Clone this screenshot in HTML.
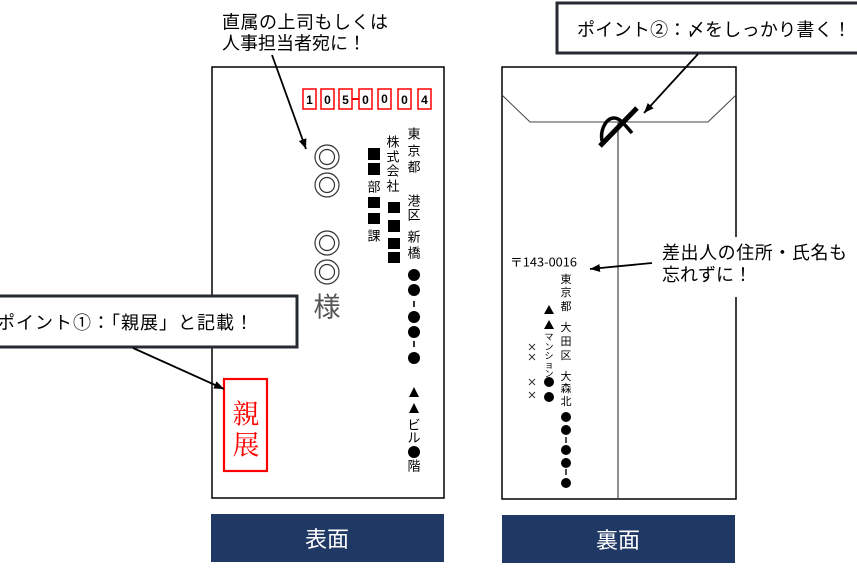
<!DOCTYPE html>
<html><head><meta charset="utf-8"><style>
html,body{margin:0;padding:0;background:#fff;}
svg{display:block;}
text{font-family:"Liberation Sans","Noto Sans CJK JP",sans-serif;}
.j{font-family:"Noto Sans CJK JP","Liberation Sans",sans-serif;}
</style></head><body>
<svg width="857" height="575" viewBox="0 0 857 575" xmlns="http://www.w3.org/2000/svg">
<defs>
<marker id="ah" markerWidth="10" markerHeight="8" refX="10" refY="4" orient="auto" markerUnits="userSpaceOnUse"><path d="M0,0 L10,4 L0,8 z" fill="#000"/></marker>
</defs>
<rect width="857" height="575" fill="#fff"/>

<!-- FRONT envelope -->
<rect x="212" y="67" width="232" height="431" fill="none" stroke="#000" stroke-width="1.5"/>
<!-- postal code boxes -->
<g fill="none" stroke="#f00" stroke-width="1.5">
<rect x="303" y="89" width="13" height="20"/><rect x="321" y="89" width="13" height="20"/><rect x="339" y="89" width="13" height="20"/>
<rect x="359" y="89" width="13" height="20"/><rect x="378" y="89" width="13" height="20"/><rect x="398" y="89" width="13" height="20"/><rect x="418" y="89" width="13" height="20"/>
<line x1="352" y1="99" x2="359" y2="99" stroke-width="2"/>
</g>
<g font-size="12" font-weight="bold" text-anchor="middle" dominant-baseline="central" fill="#000">
<text x="309.5" y="100">1</text><text x="327.5" y="100">0</text><text x="345.5" y="100">5</text>
<text x="365.5" y="100">0</text><text x="384.5" y="99">0</text><text x="404.5" y="100">0</text><text x="424.5" y="100">4</text>
</g>
<!-- double circles -->
<g fill="none" stroke="#333" stroke-width="1.2">
<circle cx="327" cy="157" r="12"/><circle cx="327" cy="157" r="7.5"/>
<circle cx="327" cy="185" r="12"/><circle cx="327" cy="185" r="7.5"/>
<circle cx="327" cy="243" r="12"/><circle cx="327" cy="243" r="7.5"/>
<circle cx="327" cy="272" r="12"/><circle cx="327" cy="272" r="7.5"/>
</g>
<text class="j" x="327" y="305" font-size="27" fill="#555" text-anchor="middle" dominant-baseline="central">様</text>

<!-- front vertical address -->
<g class="j" font-size="13" text-anchor="middle" dominant-baseline="central" fill="#000">
<text x="414" y="134">東</text><text x="414" y="151">京</text><text x="414" y="167">都</text>
<text x="414" y="201">港</text><text x="414" y="215">区</text>
<text x="414" y="237">新</text><text x="414" y="253">橋</text>
<text x="414" y="425">ビ</text><text x="414" y="438">ル</text><text x="414" y="466">階</text>
<text x="393" y="142">株</text><text x="393" y="157">式</text><text x="393" y="171">会</text><text x="393" y="186">社</text>
<text x="374" y="187">部</text><text x="374" y="236">課</text>
</g>
<g fill="#000">
<circle cx="414" cy="275" r="6"/><circle cx="414" cy="290" r="6"/>
<circle cx="414" cy="317" r="6"/><circle cx="414" cy="332" r="6"/>
<circle cx="414" cy="358" r="6"/><circle cx="414" cy="452" r="6"/>
<rect x="413.2" y="301" width="1.6" height="6"/><rect x="413.2" y="341" width="1.6" height="6"/>
<path d="M409,397 L414,387 L419,397 z"/><path d="M409,413 L414,403 L419,413 z"/>
<rect x="388" y="202" width="12" height="11"/><rect x="388" y="220" width="12" height="12"/>
<rect x="388" y="238" width="12" height="11"/><rect x="388" y="252" width="12" height="11"/>
<rect x="368" y="148" width="12" height="12"/><rect x="368" y="163" width="12" height="12"/>
<rect x="368" y="197" width="12" height="11"/><rect x="368" y="213" width="12" height="11"/>
</g>

<!-- 親展 -->
<rect x="224" y="379" width="43" height="92" fill="none" stroke="#f00" stroke-width="2.2"/>
<g font-size="27" fill="#f00" text-anchor="middle" dominant-baseline="central">
<text x="246" y="412" style="font-family:'Noto Serif CJK SC',serif">親</text>
<text x="246" y="443" style="font-family:'Noto Serif CJK SC',serif">展</text>
</g>

<!-- top-left callout text -->
<g class="j" font-size="18" fill="#000" dominant-baseline="central">
<text x="222" y="22.5" textLength="166" lengthAdjust="spacing">直属の上司もしくは</text>
<text x="222" y="43.5">人事担当者宛に！</text>
</g>
<line x1="272" y1="55" x2="306" y2="149" stroke="#000" stroke-width="1.8" marker-end="url(#ah)"/>

<!-- callout 1 -->
<rect x="-5" y="296" width="302" height="51" fill="#fff" stroke="#262b33" stroke-width="3"/>
<text class="j" x="-3" y="322" font-size="18" fill="#000" dominant-baseline="central" textLength="256" lengthAdjust="spacing">ポイント①：「親展」と記載！</text>
<line x1="133" y1="348" x2="224" y2="389" stroke="#000" stroke-width="1.8" marker-end="url(#ah)"/>

<!-- labels -->
<rect x="211" y="514" width="233" height="48" fill="#203864"/>
<text class="j" x="327" y="538" font-size="22" fill="#fff" text-anchor="middle" dominant-baseline="central">表面</text>
<rect x="502" y="515" width="233" height="48" fill="#203864"/>
<text class="j" x="618" y="539" font-size="22" fill="#fff" text-anchor="middle" dominant-baseline="central">裏面</text>

<!-- BACK envelope -->
<rect x="502" y="67" width="234" height="432" fill="none" stroke="#000" stroke-width="1.5"/>
<polyline points="502,95 530,122 708,122 736,95" fill="none" stroke="#444" stroke-width="1"/>
<line x1="618" y1="122" x2="618" y2="499" stroke="#444" stroke-width="1.2"/>

<!-- 〆 mark -->
<path d="M637,108 L600,146" stroke="#000" stroke-width="5" fill="none"/>
<path d="M602,141 C600,130 606,118 614,118 C620,118 624,124 632,133" stroke="#000" stroke-width="3.5" fill="none"/>

<!-- callout 2 -->
<rect x="557" y="3" width="310" height="50" fill="#fff" stroke="#262b33" stroke-width="3"/>
<text class="j" x="577" y="29" font-size="18" fill="#000" dominant-baseline="central" textLength="274" lengthAdjust="spacing">ポイント②：〆をしっかり書く！</text>
<line x1="698" y1="54" x2="644" y2="113" stroke="#000" stroke-width="1.8" marker-end="url(#ah)"/>

<!-- back address -->
<text class="j" x="510" y="262" font-size="12" fill="#000" dominant-baseline="central" textLength="67" lengthAdjust="spacingAndGlyphs">〒143-0016</text>
<g class="j" font-size="11" text-anchor="middle" dominant-baseline="central" fill="#000">
<text x="566" y="280">東</text><text x="566" y="293">京</text><text x="566" y="307">都</text>
<text x="566" y="328">大</text><text x="566" y="342">田</text><text x="566" y="356">区</text>
<text x="566" y="377">大</text><text x="566" y="389">森</text><text x="566" y="402">北</text>
</g>
<g class="j" font-size="9" text-anchor="middle" dominant-baseline="central" fill="#000">
<text x="549" y="337">マ</text><text x="549" y="347">ン</text><text x="549" y="356">シ</text><text x="549" y="365">ョ</text><text x="549" y="374">ン</text>
</g>
<g fill="#000">
<circle cx="566" cy="417" r="5"/><circle cx="566" cy="430" r="5"/>
<circle cx="566" cy="450" r="5"/><circle cx="566" cy="463" r="5"/><circle cx="566" cy="483" r="5"/>
<rect x="565.3" y="437" width="1.4" height="6"/><rect x="565.3" y="469" width="1.4" height="6"/>
<path d="M544,314 L549,305 L554,314 z"/><path d="M544,329 L549,320 L554,329 z"/>
<circle cx="549" cy="382" r="5"/><circle cx="549" cy="397" r="5"/>
</g>
<g stroke="#333" stroke-width="1">
<path d="M529,344 L535,350 M535,344 L529,350"/>
<path d="M529,354 L535,360 M535,354 L529,360"/>
<path d="M529,379 L535,385 M535,379 L529,385"/>
<path d="M529,392 L535,398 M535,392 L529,398"/>
</g>

<!-- right callout text -->
<rect x="656" y="237" width="201" height="60" fill="#fff"/>
<g class="j" font-size="18" fill="#000" dominant-baseline="central">
<text x="662" y="253" textLength="185" lengthAdjust="spacing">差出人の住所・氏名も</text>
<text x="662" y="275">忘れずに！</text>
</g>
<line x1="652" y1="263" x2="590" y2="269" stroke="#000" stroke-width="1.8" marker-end="url(#ah)"/>
</svg>
</body></html>
